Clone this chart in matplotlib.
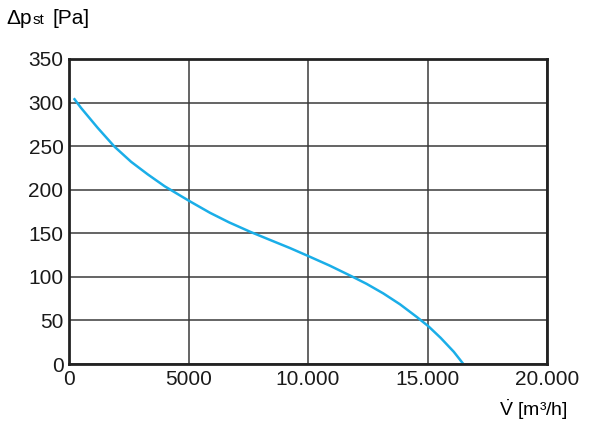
import matplotlib
matplotlib.use("Agg")
import matplotlib.pyplot as plt
from matplotlib.ticker import FuncFormatter

plt.rcParams['font.family'] = ['Liberation Sans', 'DejaVu Sans']
plt.rcParams['mathtext.fontset'] = 'custom'
plt.rcParams['mathtext.rm'] = 'Liberation Sans'

# Kennlinie
volumenstrom = [200, 500, 1200, 1900, 2600, 3300, 4000, 4700, 5100, 5900,
                6700, 7600, 8400, 9250, 10000, 10900, 11800, 12450, 13150,
                13850, 14550, 15050, 15550, 16100, 16500]
druck = [305, 294, 271, 249.5, 232, 217.5, 204, 192.5, 186, 173.5,
         162.5, 151.5, 142.5, 133, 124, 113, 101, 92, 81,
         68.5, 54, 43, 30, 14, 0]

x_ticks = [0, 5000, 10000, 15000, 20000]
y_ticks = [0, 50, 100, 150, 200, 250, 300, 350]


def tausender(v, pos):
    v = int(v)
    if v >= 10000:
        return f"{v:,}".replace(",", ".")
    return str(v)


fig = plt.figure(figsize=(6, 4.24), dpi=100)
ax = fig.add_axes([69 / 600, 1 - 364 / 424, 478 / 600, 305 / 424])

ax.plot(volumenstrom, druck, color="#1aaee8", linewidth=1.8,
        solid_capstyle="butt", solid_joinstyle="round")

ax.set_xlim(0, 20000)
ax.set_ylim(0, 350)
ax.set_xticks(x_ticks)
ax.set_yticks(y_ticks)
ax.xaxis.set_major_formatter(FuncFormatter(tausender))
ax.tick_params(length=0, labelsize=15, pad=4, colors="#1a1a1a")
ax.grid(True, color="#3a3a3a", linewidth=1.1)
for s in ax.spines.values():
    s.set_linewidth(2)
    s.set_color("#222222")

fig.text(6 / 600, 1 - 18 / 424, "Δp", fontsize=15, va="center", ha="left")
fig.text(33 / 600, 1 - 20 / 424, "st", fontsize=11, va="center", ha="left")
fig.text(52 / 600, 1 - 18 / 424, "[Pa]", fontsize=15, va="center", ha="left")

fig.text(568 / 600, 1 - 410 / 424, r"$\dot{\mathrm{V}}$ [m³/h]", fontsize=14,
         va="center", ha="right")

fig.savefig("out.png", dpi=100)
